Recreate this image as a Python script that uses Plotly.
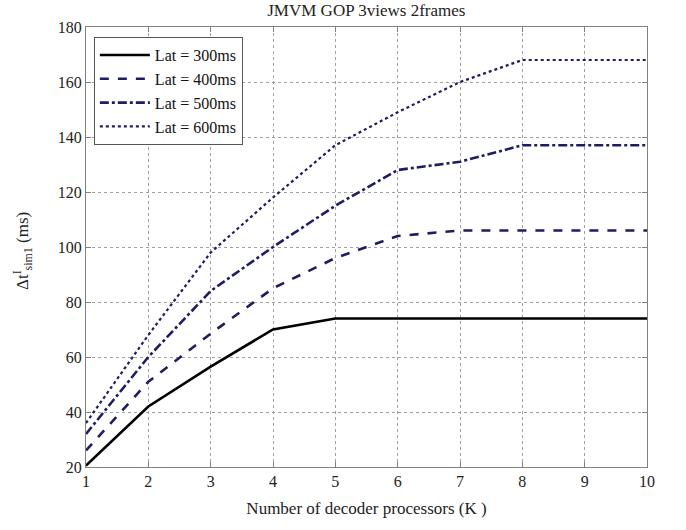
import plotly.graph_objects as go

K = [1, 2, 3, 4, 5, 6, 7, 8, 9, 10]
lat300 = [20.5, 42, 56.5, 70, 74, 74, 74, 74, 74, 74]
lat400 = [26, 51, 68.5, 85, 96, 104, 106, 106, 106, 106]
lat500 = [32, 60, 84, 100, 115, 128, 131, 137, 137, 137]
lat600 = [36, 68, 98, 118, 137, 149, 160, 168, 168, 168]
names = ["Lat = 300ms", "Lat = 400ms", "Lat = 500ms", "Lat = 600ms"]
xticks = [1, 2, 3, 4, 5, 6, 7, 8, 9, 10]
yticks = [20, 40, 60, 80, 100, 120, 140, 160, 180]

FONT = "Times New Roman, Liberation Serif, DejaVu Serif, serif"
navy = "#1e1d63"
series = [lat300, lat400, lat500, lat600]
colors = ["#000000", navy, navy, navy]
dashes = ["solid", "dash", "dashdot", "dot"]
widths = [2.6, 2.6, 2.6, 2.2]

fig = go.Figure()
for ys, nm, c, d, w in zip(series, names, colors, dashes, widths):
    fig.add_trace(go.Scatter(x=K, y=ys, mode="lines", name=nm,
                             line=dict(color=c, dash=d, width=w)))

axis_common = dict(
    showline=True, linecolor="#808080", linewidth=1, mirror="ticks",
    ticks="inside", ticklen=5, tickcolor="#808080",
    showgrid=True, gridcolor="#a0a0a0", griddash="dot", gridwidth=1,
    zeroline=False, tickfont=dict(family=FONT, size=16, color="#222"),
)
fig.update_xaxes(range=[1, 10], tickvals=xticks, **axis_common,
                 title=dict(text="Number of decoder processors (K )",
                            font=dict(family=FONT, size=17, color="#222"),
                            standoff=12))
fig.update_yaxes(range=[20, 180], tickvals=yticks, **axis_common)

fig.add_annotation(text="Δt<sup>I</sup><sub>sim1</sub> (ms)", textangle=-90,
                   xref="paper", yref="paper", x=-0.113, y=0.49,
                   xanchor="center", yanchor="middle",
                   showarrow=False, font=dict(family=FONT, size=17, color="#222"))

fig.update_layout(
    width=686, height=530,
    margin=dict(l=86, r=39, t=27, b=63),
    paper_bgcolor="white", plot_bgcolor="white",
    title=dict(text="JMVM GOP 3views 2frames", x=0.534, xanchor="center",
               yref="container", y=0.992, yanchor="top",
               font=dict(family=FONT, size=17, color="#222")),
    legend=dict(x=0.014, y=0.977, xanchor="left", yanchor="top",
                bordercolor="#555", borderwidth=1, bgcolor="white",
                font=dict(family=FONT, size=16, color="#111"),
                tracegroupgap=0, itemwidth=50),
    showlegend=True,
)

fig.write_html("out.html", config={"displayModeBar": False},
               post_script="document.body.style.margin='0';")
